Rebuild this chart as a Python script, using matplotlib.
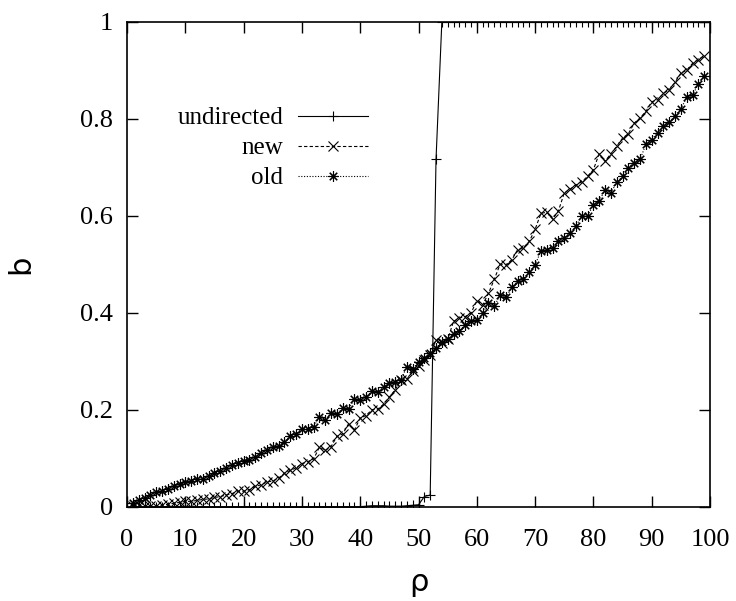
import numpy as np
import matplotlib
matplotlib.use('Agg')
import matplotlib.pyplot as plt

# --- Data ---
rho = list(range(1, 100))

undirected = [0.0] * 40 + [0.001, 0.002, 0.002, 0.002, 0.001, 0.001, 0.001, 0.002, 0.003,
                           0.004, 0.021, 0.024, 0.716] + [1.0] * 46

new = [0.002, 0.003, 0.001, 0.001, 0.001, 0.003, 0.005, 0.007, 0.009, 0.011,
       0.011, 0.013, 0.015, 0.016, 0.019, 0.021, 0.024, 0.027, 0.032, 0.032,
       0.035, 0.042, 0.045, 0.051, 0.053, 0.059, 0.069, 0.075, 0.080, 0.089,
       0.093, 0.098, 0.123, 0.116, 0.124, 0.145, 0.150, 0.171, 0.158, 0.183,
       0.188, 0.200, 0.201, 0.211, 0.226, 0.241, 0.261, 0.263, 0.279, 0.290,
       0.303, 0.313, 0.344, 0.337, 0.345, 0.382, 0.389, 0.392, 0.399, 0.425,
       0.416, 0.440, 0.469, 0.500, 0.499, 0.509, 0.530, 0.533, 0.547, 0.572,
       0.605, 0.607, 0.593, 0.610, 0.647, 0.655, 0.663, 0.670, 0.681, 0.695,
       0.728, 0.712, 0.728, 0.743, 0.760, 0.769, 0.791, 0.801, 0.815, 0.835,
       0.839, 0.852, 0.860, 0.875, 0.894, 0.900, 0.914, 0.922, 0.929]

old = [0.008, 0.013, 0.017, 0.024, 0.030, 0.033, 0.037, 0.042, 0.046, 0.050,
       0.053, 0.057, 0.058, 0.063, 0.069, 0.073, 0.080, 0.087, 0.090, 0.095,
       0.097, 0.103, 0.110, 0.116, 0.123, 0.125, 0.134, 0.146, 0.150, 0.160,
       0.160, 0.165, 0.184, 0.178, 0.194, 0.191, 0.203, 0.201, 0.222, 0.219,
       0.227, 0.238, 0.237, 0.246, 0.256, 0.258, 0.262, 0.289, 0.284, 0.298,
       0.306, 0.316, 0.327, 0.340, 0.345, 0.357, 0.363, 0.375, 0.382, 0.384,
       0.399, 0.420, 0.413, 0.437, 0.432, 0.452, 0.466, 0.470, 0.484, 0.499,
       0.527, 0.529, 0.533, 0.547, 0.554, 0.564, 0.578, 0.599, 0.599, 0.623,
       0.630, 0.654, 0.647, 0.669, 0.681, 0.698, 0.709, 0.716, 0.747, 0.757,
       0.771, 0.784, 0.793, 0.806, 0.820, 0.844, 0.848, 0.872, 0.888]

x_ticks = list(range(0, 101, 10))
y_ticks = [0, 0.2, 0.4, 0.6, 0.8, 1]
y_ticklabels = ['0', '0.2', '0.4', '0.6', '0.8', '1']

# --- Figure ---
plt.rcParams['font.family'] = ['Liberation Serif', 'DejaVu Serif']

fig = plt.figure(figsize=(7.36, 6.01), dpi=100)
ax = fig.add_axes([0.1726, 0.1569, 0.7921, 0.8070])

ax.plot(rho, undirected, color='black', linestyle='-', linewidth=0.8,
        marker='+', markersize=7, markeredgewidth=0.8, label='undirected')
ax.plot(rho, new, color='black', linestyle=(0, (3, 2)), linewidth=0.8,
        marker='x', markersize=7, markeredgewidth=0.8, label='new')
ax.plot(rho, old, color='black', linestyle=(0, (1, 1.5)), linewidth=0.8,
        marker=(8, 2, 0), markersize=7.5, markeredgewidth=0.8, label='old')

ax.set_xlim(0, 100)
ax.set_ylim(0, 1)
ax.set_xticks(x_ticks)
ax.set_yticks(y_ticks)
ax.set_yticklabels(y_ticklabels)

ax.tick_params(direction='in', length=8, width=1, top=True, right=True,
               labelsize=19)
ax.tick_params(axis='x', pad=16)
ax.tick_params(axis='y', pad=10)
for s in ax.spines.values():
    s.set_linewidth(1.2)

ax.set_xlabel('ρ', fontsize=22, family='DejaVu Sans', labelpad=12)
ax.set_ylabel('b', fontsize=22, family='DejaVu Sans', labelpad=32, rotation=90)

leg = ax.legend(loc='upper right', bbox_to_anchor=(0.431, 0.845), frameon=False,
                markerfirst=False, numpoints=1, handlelength=2.8,
                fontsize=18, labelspacing=0.3, handletextpad=0.6,
                borderaxespad=0)

fig.savefig('out.png', dpi=100)
